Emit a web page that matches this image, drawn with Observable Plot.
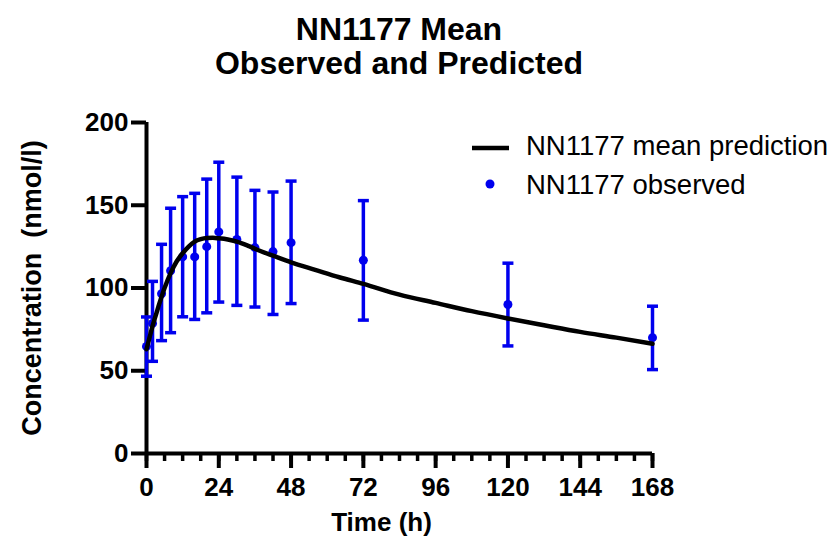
<!DOCTYPE html>
<html><head><meta charset="utf-8">
<script src="https://cdn.jsdelivr.net/npm/d3@7"></script>
<script src="https://cdn.jsdelivr.net/npm/@observablehq/plot@0.6"></script>
<style>
body{margin:0;background:#fff;font-family:"Liberation Sans",Arial,sans-serif;color:#000;}
#wrap{position:relative;width:839px;height:548px;}
#title{position:absolute;left:0;top:12px;width:798px;text-align:center;font-weight:bold;font-size:32px;line-height:34px;}
.leg{position:absolute;font-size:27.5px;white-space:nowrap;line-height:30px;}
.sw{position:absolute;}
</style></head>
<body>
<div id="wrap">
  <div id="chart"></div>
  <div id="title">NN1177 Mean<br>Observed and Predicted</div>
  <svg class="sw" style="left:470px;top:140px" width="42" height="16"><line x1="2" x2="39" y1="8" y2="8" stroke="#000" stroke-width="4.5"/></svg>
  <div class="leg" style="left:526px;top:131px">NN1177 mean prediction</div>
  <svg class="sw" style="left:482px;top:176px" width="16" height="16"><circle cx="8" cy="8" r="4.5" fill="#0000ee"/></svg>
  <div class="leg" style="left:526px;top:170px">NN1177 observed</div>
</div>
<script>
// Observed data (mean ± SD)
const obsTime = [0, 2, 5, 8, 12, 16, 20, 24, 30, 36, 42, 48, 72, 120, 168];
const obsMean = [64.7, 78.6, 96.5, 110.4, 118.8, 118.8, 125, 133.9, 129.3, 124.4, 122, 127.4, 116.8, 90, 70];
const obsLow  = [46.7, 55.7, 68.2, 73, 82.6, 81, 85, 91.5, 89.5, 88.5, 84, 90.6, 80.6, 65, 50.7];
const obsHigh = [82.5, 104, 126.4, 148.2, 155.2, 157.2, 165.8, 176, 167, 159, 158, 164.6, 152.8, 115, 89];

// Mean model prediction
const predTime = [0, 1, 2, 3, 4, 6, 8, 10, 12, 14, 16, 18, 20, 22, 24, 27, 30, 34, 38, 42, 48, 56, 64, 72, 84, 96, 108, 120, 132, 144, 156, 168];
const predConc = [63, 70, 77, 83, 89, 100, 109, 116, 121, 125, 128, 129.5, 130.2, 130.3, 130, 129.3, 128, 125.3, 122.2, 119.5, 115.5, 111, 106.5, 102.5, 96, 91, 86, 81.6, 77.5, 73.5, 70, 66.3];

const xTicks = [0, 24, 48, 72, 96, 120, 144, 168];
const xMinorTicks = d3.range(0, 169, 6);
const yTicks = [0, 50, 100, 150, 200];

const obs = obsTime.map((t, i) => ({t, mean: obsMean[i], lo: obsLow[i], hi: obsHigh[i]}));
const pred = predTime.map((t, i) => ({t, c: predConc[i]}));

const blue = "#0000ee";
const capSymbol = {draw(ctx, size) { const w = Math.sqrt(size / Math.PI); ctx.moveTo(-w, 0); ctx.lineTo(w, 0); }};

const chart = Plot.plot({
  width: 839,
  height: 548,
  marginLeft: 146,
  marginRight: 187,
  marginTop: 122,
  marginBottom: 95,
  style: {fontFamily: "'Liberation Sans', Arial, sans-serif", color: "#000", background: "#fff", overflow: "visible"},
  x: {domain: [0, 168]},
  y: {domain: [0, 200]},
  marks: [
    Plot.axisX({ticks: xMinorTicks, tickSize: 8, strokeWidth: 3.5, text: null, label: null}),
    Plot.axisX({ticks: xTicks, tickSize: 15, strokeWidth: 4, tickPadding: 9, fontSize: 26, fontWeight: "bold", label: null}),
    Plot.axisY({ticks: yTicks, tickSize: 15, strokeWidth: 4, tickPadding: 3, fontSize: 26, fontWeight: "bold", label: null}),
    Plot.ruleY([0], {x1: 0, x2: 168, strokeWidth: 4}),
    Plot.ruleX([0], {y1: 0, y2: 200, strokeWidth: 4}),
    Plot.text(["Concentration  (nmol/l)"], {frameAnchor: "left", dx: -114, rotate: -90, textAnchor: "middle", lineAnchor: "middle", fontSize: 27, fontWeight: "bold"}),
    Plot.text(["Time (h)"], {frameAnchor: "bottom", dx: -18, dy: 69, textAnchor: "middle", lineAnchor: "middle", fontSize: 26, fontWeight: "bold"}),
    Plot.ruleX(obs, {x: "t", y1: "lo", y2: "hi", stroke: blue, strokeWidth: 3.5}),
    Plot.dot(obs, {x: "t", y: "hi", symbol: capSymbol, r: 5.5, stroke: blue, strokeWidth: 3.5, fill: "none"}),
    Plot.dot(obs, {x: "t", y: "lo", symbol: capSymbol, r: 5.5, stroke: blue, strokeWidth: 3.5, fill: "none"}),
    Plot.dot(obs, {x: "t", y: "mean", r: 4.5, fill: blue}),
    Plot.line(pred, {x: "t", y: "c", curve: "monotone-x", stroke: "#000", strokeWidth: 4.5})
  ]
});
document.getElementById("chart").appendChild(chart);
</script>
</body></html>
